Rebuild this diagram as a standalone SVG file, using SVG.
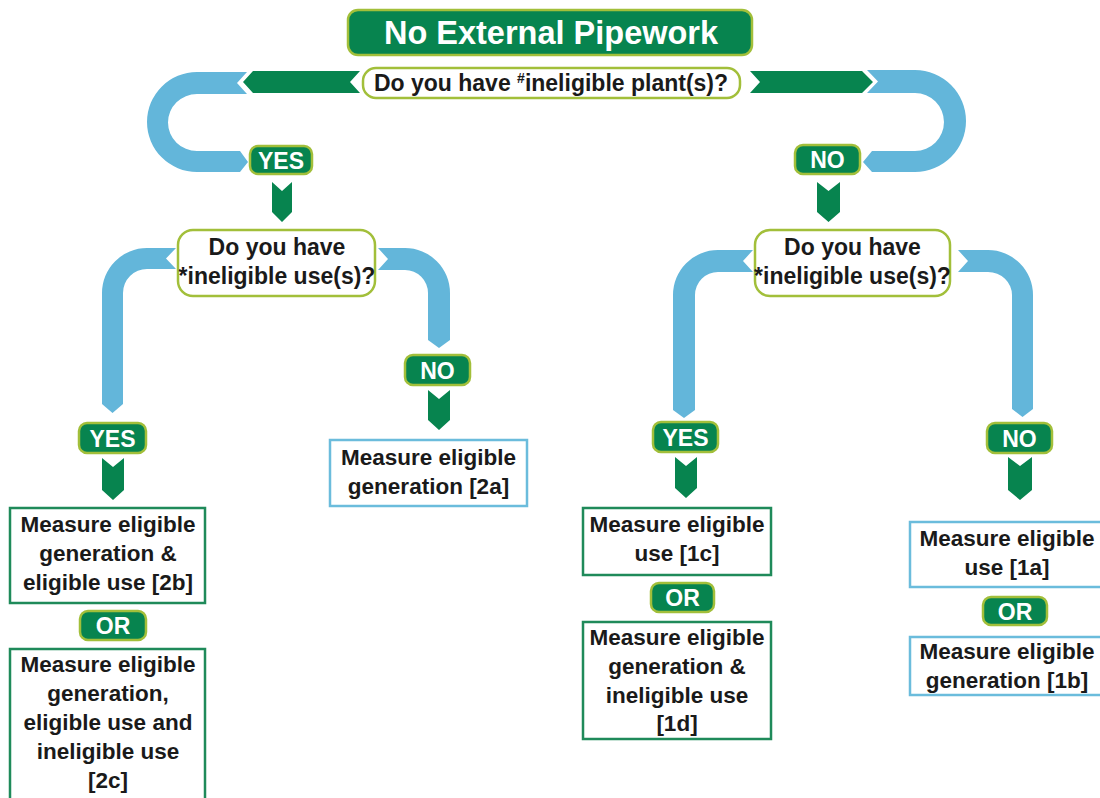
<svg xmlns="http://www.w3.org/2000/svg" width="1100" height="798" viewBox="0 0 1100 798">
<defs>
<style>
.bg{fill:#ffffff}
.flow{fill:#63b6da}
.garrow{fill:#07844f}
.title{fill:#07844f;stroke:#a2bf3a;stroke-width:2.5}
.q{fill:#ffffff;stroke:#a2bf3a;stroke-width:2.5}
.tag{fill:#07844f;stroke:#a2bf3a;stroke-width:2.5}
.gbox{fill:#ffffff;stroke:#1f8a5a;stroke-width:2.5}
.bbox{fill:#ffffff;stroke:#6bbcdc;stroke-width:2.5}
text{font-family:"Liberation Sans",Arial,sans-serif;font-weight:bold;text-anchor:middle}
.tt{fill:#ffffff;font-size:32.5px}
.qt{fill:#1a1a1a;font-size:23px}
.bt{fill:#1a1a1a;font-size:22.5px}
.lt{fill:#ffffff;font-size:23px}
</style>
</defs>
<rect class="bg" x="0" y="0" width="1100" height="798"/>

<g id="connectors">
<path class="flow" d="M247 72 H197 A50 50 0 0 0 197 172 H240 L248 162 L240 151 H197 A29 28.5 0 0 1 197 94 H247 L237 83 Z"/>
<path class="flow" d="M867 70 H915 A51 51 0 0 1 915 172 H872 L863 162 L872 151 H915 A29 29 0 0 0 915 93 H867 L878 81.5 Z"/>
<path class="garrow" d="M243 82 L253 71 H360 L350 82 L360 93 H253 Z"/>
<path class="garrow" d="M750 71 H862 L873 82 L862 93 H750 L760 82 Z"/>
<path class="flow" d="M176 248 H147 A45 45 0 0 0 102 293 V404 L112.5 413 L123 404 V293 A24 24 0 0 1 147 269 H176 L166 258.5 Z"/>
<path class="flow" d="M378 248 H405 A45 45 0 0 1 450 293 V340 L439 348 L428 340 V293 A23 23 0 0 0 405 270 H378 L388 259 Z"/>
<path class="flow" d="M753 250 H718 A45 45 0 0 0 673 295 V410 L684 418 L695 410 V295 A23 23 0 0 1 718 272 H753 L743 261 Z"/>
<path class="flow" d="M958 250 H988 A45 45 0 0 1 1033 295 V409 L1022.5 417 L1012 409 V295 A24 23 0 0 0 988 272 H958 L968 261 Z"/>
<path class="garrow" d="M272 182 L282 191 L292 182 V212 L282 222 L272 212 Z"/>
<path class="garrow" d="M817 182 L828.5 191 L840 182 V212 L828.5 222 L817 212 Z"/>
<path class="garrow" d="M428 390 L439 399 L450 390 V420 L439 430 L428 420 Z"/>
<path class="garrow" d="M102 458 L113 467 L124 458 V490 L113 500 L102 490 Z"/>
<path class="garrow" d="M675 457 L686 466 L697 457 V488 L686 498 L675 488 Z"/>
<path class="garrow" d="M1008 457 L1020 466 L1032 457 V490 L1020 500 L1008 490 Z"/>
</g>

<g id="title">
<rect class="title" x="348" y="10" width="404" height="45" rx="10"/>
<text class="tt" x="551" y="44">No External Pipework</text>
</g>

<g id="q-plant">
<rect class="q" x="363" y="68" width="377" height="30" rx="13"/>
<text class="qt" x="551" y="91">Do you have <tspan font-size="14" dy="-8">#</tspan><tspan dy="8">ineligible plant(s)?</tspan></text>
</g>

<g id="yes-plant">
<rect class="tag" x="250" y="146" width="62" height="28" rx="8"/>
<text class="lt" x="281" y="168.5">YES</text>
</g>

<g id="no-plant">
<rect class="tag" x="795" y="145" width="65" height="29" rx="8"/>
<text class="lt" x="827.5" y="168">NO</text>
</g>

<g id="q-use-left">
<rect class="q" x="178" y="230" width="197" height="66" rx="15"/>
<text class="qt" x="277" y="255">Do you have</text>
<text class="qt" x="277" y="284">*ineligible use(s)?</text>
</g>

<g id="q-use-right">
<rect class="q" x="755" y="230" width="195" height="66" rx="15"/>
<text class="qt" x="852.5" y="255">Do you have</text>
<text class="qt" x="852.5" y="284">*ineligible use(s)?</text>
</g>

<g id="no-use-left">
<rect class="tag" x="405" y="355" width="65" height="30" rx="8"/>
<text class="lt" x="437.5" y="378.5">NO</text>
</g>

<g id="yes-use-left">
<rect class="tag" x="79" y="423" width="67" height="30" rx="8"/>
<text class="lt" x="112.5" y="446.5">YES</text>
</g>

<g id="yes-use-right">
<rect class="tag" x="653" y="422" width="65" height="30" rx="8"/>
<text class="lt" x="685.5" y="445.5">YES</text>
</g>

<g id="no-use-right">
<rect class="tag" x="987" y="423" width="65" height="30" rx="8"/>
<text class="lt" x="1019.5" y="446.5">NO</text>
</g>

<g id="box-2a">
<rect class="bbox" x="330" y="440" width="197" height="66"/>
<text class="bt" x="428.5" y="465">Measure eligible</text>
<text class="bt" x="428.5" y="494">generation [2a]</text>
</g>

<g id="box-2b">
<rect class="gbox" x="10" y="508" width="195" height="95"/>
<text class="bt" x="108" y="532">Measure eligible</text>
<text class="bt" x="108" y="561">generation &amp;</text>
<text class="bt" x="108" y="590">eligible use [2b]</text>
</g>

<g id="or-2">
<rect class="tag" x="80" y="611" width="66" height="29" rx="8"/>
<text class="lt" x="113" y="634">OR</text>
</g>

<g id="box-2c">
<rect class="gbox" x="10" y="649" width="195" height="160"/>
<text class="bt" x="108" y="672">Measure eligible</text>
<text class="bt" x="108" y="701">generation,</text>
<text class="bt" x="108" y="730">eligible use and</text>
<text class="bt" x="108" y="759">ineligible use</text>
<text class="bt" x="108" y="788">[2c]</text>
</g>

<g id="box-1c">
<rect class="gbox" x="583" y="508" width="188" height="67"/>
<text class="bt" x="677" y="532">Measure eligible</text>
<text class="bt" x="677" y="561">use [1c]</text>
</g>

<g id="or-1cd">
<rect class="tag" x="651" y="583" width="63" height="29" rx="8"/>
<text class="lt" x="682.5" y="606">OR</text>
</g>

<g id="box-1d">
<rect class="gbox" x="583" y="622" width="188" height="117"/>
<text class="bt" x="677" y="645">Measure eligible</text>
<text class="bt" x="677" y="674">generation &amp;</text>
<text class="bt" x="677" y="703">ineligible use</text>
<text class="bt" x="677" y="731">[1d]</text>
</g>

<g id="box-1a">
<rect class="bbox" x="910" y="522" width="200" height="65"/>
<text class="bt" x="1007" y="546">Measure eligible</text>
<text class="bt" x="1007" y="575">use [1a]</text>
</g>

<g id="or-1ab">
<rect class="tag" x="983" y="597" width="64" height="28" rx="8"/>
<text class="lt" x="1015" y="619.5">OR</text>
</g>

<g id="box-1b">
<rect class="bbox" x="910" y="637" width="200" height="58"/>
<text class="bt" x="1007" y="659">Measure eligible</text>
<text class="bt" x="1007" y="688">generation [1b]</text>
</g>
</svg>
